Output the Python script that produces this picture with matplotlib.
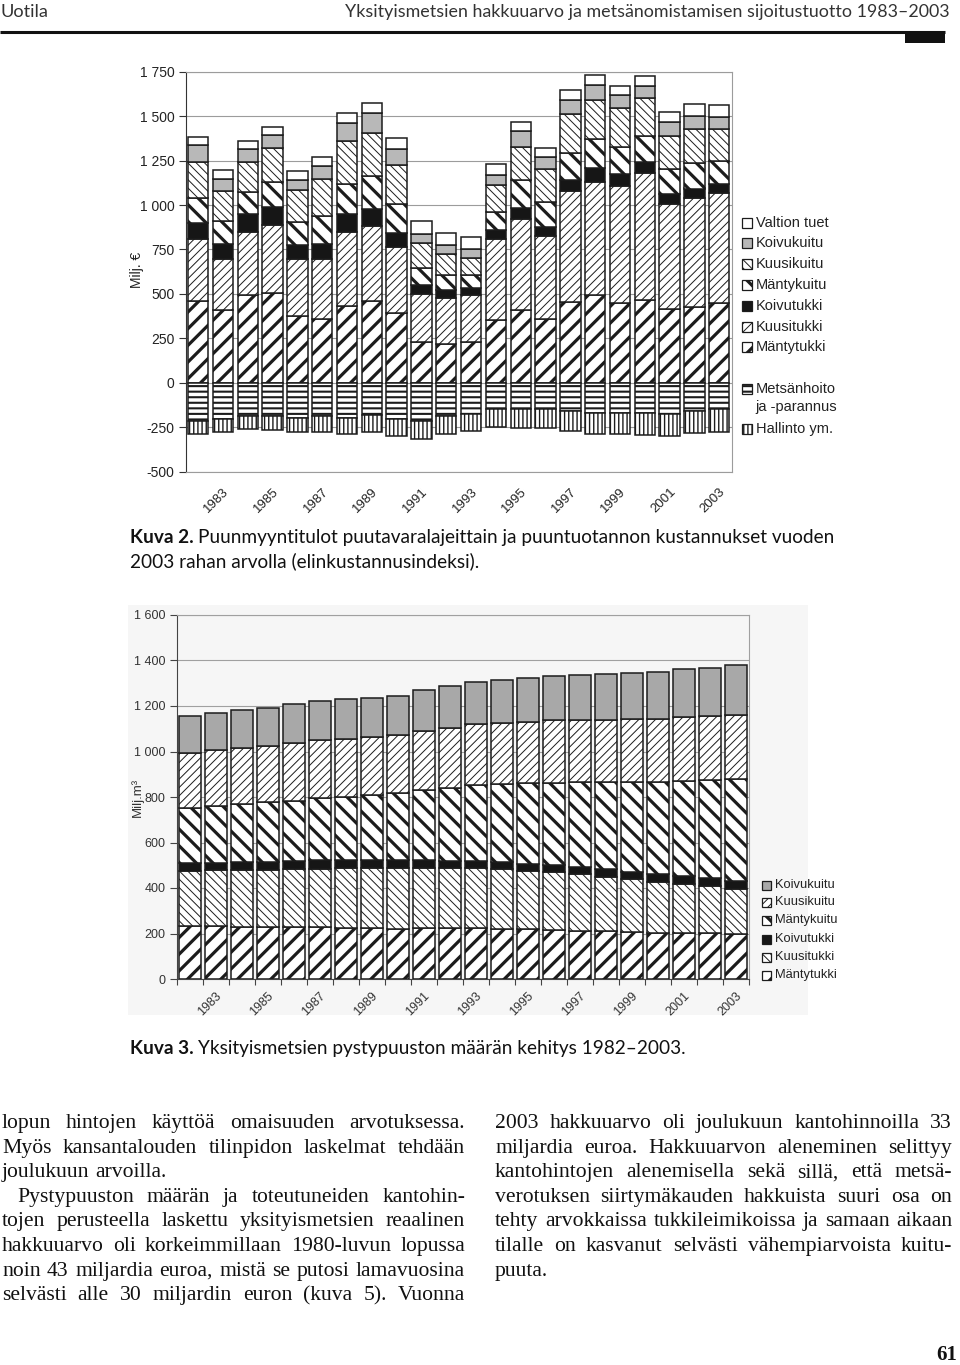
import numpy as np
import matplotlib
matplotlib.use("Agg")
import matplotlib.pyplot as plt
from matplotlib.patches import Rectangle

W, H, DPI = 960, 1365, 100

# ---------------- data ----------------
years = list(range(1982, 2004))
tick_years = list(range(1983, 2004, 2))

# Kuva 2: Puunmyyntitulot (Milj. €), bottom -> top
c1_mantytukki = [458, 411, 492, 507, 374, 361, 432, 458, 393, 229, 216, 229, 351, 411, 361, 454, 492, 451, 468, 417, 426, 449]
c1_kuusitukki = [350, 288, 357, 383, 325, 338, 417, 423, 371, 269, 263, 263, 457, 513, 465, 626, 639, 657, 713, 588, 611, 616]
c1_koivutukki = [92, 80, 98, 100, 75, 84, 98, 94, 79, 50, 45, 43, 50, 62, 51, 60, 75, 66, 62, 56, 56, 56]
c1_mantykuitu = [142, 130, 127, 137, 131, 156, 170, 188, 165, 98, 81, 70, 104, 154, 141, 154, 163, 154, 147, 139, 141, 128]
c1_kuusikuitu = [198, 171, 169, 191, 182, 210, 245, 240, 218, 143, 118, 99, 150, 188, 182, 218, 222, 216, 210, 190, 191, 176]
c1_koivukuitu = [97, 69, 70, 74, 53, 72, 97, 113, 89, 50, 51, 47, 56, 90, 71, 79, 84, 75, 70, 75, 76, 72]
c1_valtion_tuet = [43, 47, 49, 45, 51, 47, 60, 56, 60, 70, 71, 70, 60, 51, 51, 56, 57, 51, 56, 56, 65, 65]
c1_metsanhoito = [-214, -201, -187, -187, -196, -187, -196, -183, -201, -214, -187, -178, -150, -150, -150, -159, -169, -169, -169, -178, -159, -150]
c1_hallinto = [-72, -73, -72, -81, -81, -87, -90, -91, -98, -103, -99, -94, -100, -105, -105, -113, -117, -117, -123, -121, -124, -127]
c1_pos_labels = ["Mäntytukki", "Kuusitukki", "Koivutukki", "Mäntykuitu", "Kuusikuitu", "Koivukuitu", "Valtion tuet"]
c1_neg_labels = ["Metsänhoito\nja -parannus", "Hallinto ym."]
c1_yticks = [-500, -250, 0, 250, 500, 750, 1000, 1250, 1500, 1750]

# Kuva 3: Pystypuusto (Milj. m3), bottom -> top
c2_mantytukki = [233, 233, 230, 227, 227, 227, 226, 223, 221, 223, 223, 223, 220, 218, 215, 212, 211, 208, 204, 204, 201, 196]
c2_kuusitukki = [243, 246, 249, 252, 255, 257, 260, 263, 265, 266, 266, 266, 262, 258, 254, 248, 239, 232, 224, 214, 208, 201]
c2_koivutukki = [32, 32, 34, 37, 37, 39, 37, 37, 37, 34, 30, 30, 31, 29, 32, 31, 32, 32, 33, 35, 33, 35]
c2_mantykuitu = [245, 249, 256, 260, 265, 271, 278, 286, 293, 308, 322, 334, 344, 355, 362, 373, 384, 394, 406, 417, 433, 446]
c2_kuusikuitu = [242, 246, 248, 248, 252, 256, 255, 255, 256, 259, 264, 268, 270, 271, 275, 274, 272, 275, 276, 280, 281, 282]
c2_koivukuitu = [161, 162, 165, 169, 171, 170, 173, 172, 173, 180, 183, 186, 187, 190, 194, 198, 201, 205, 208, 211, 212, 220]
c2_labels = ["Mäntytukki", "Kuusitukki", "Koivutukki", "Mäntykuitu", "Kuusikuitu", "Koivukuitu"]
c2_yticks = [0, 200, 400, 600, 800, 1000, 1200, 1400, 1600]

# ---------------- styles ----------------
EDGE = "#1c1c1c"
ST = {
    "thick_fwd": dict(fc="white", hatch="//", hlw=2.3),
    "thin_fwd": dict(fc="white", hatch="////", hlw=0.7),
    "thick_back": dict(fc="white", hatch="\\\\", hlw=2.3),
    "thin_back": dict(fc="white", hatch="\\\\\\\\", hlw=0.7),
    "black": dict(fc="#161616", hatch=None, hlw=1.0),
    "gray1": dict(fc="#b8b8b8", hatch=None, hlw=1.0),
    "gray2": dict(fc="#a8a8a8", hatch=None, hlw=1.0),
    "white": dict(fc="white", hatch=None, hlw=1.0),
    "horiz": dict(fc="white", hatch="---", hlw=1.5),
    "vert": dict(fc="white", hatch="||||", hlw=1.0),
}
SANS = "Liberation Sans"
SERIF = "Liberation Serif"
CAP = "Lato"


def style_patch(p, st):
    try:
        p.set_hatch_linewidth(st["hlw"])
    except AttributeError:
        pass


fig = plt.figure(figsize=(W / DPI, H / DPI), dpi=DPI)
fig.patch.set_facecolor("white")
page = fig.add_axes([0, 0, 1, 1], zorder=0)
page.set_xlim(0, W)
page.set_ylim(H, 0)
page.axis("off")
R = fig.canvas.get_renderer()


def tw(t):
    return t.get_window_extent(renderer=R).width


def px_axes(x0, y0, x1, y1):
    return fig.add_axes([x0 / W, 1 - y1 / H, (x1 - x0) / W, (y1 - y0) / H], zorder=2)


def stack(ax, x, series, styles, width, lw=1.1):
    bottom = np.zeros(len(x))
    for vals, key in zip(series, styles):
        st = ST[key]
        vals = np.asarray(vals, float)
        with plt.rc_context({"hatch.linewidth": st["hlw"]}):
            bars = ax.bar(x, vals, width, bottom=bottom, color=st["fc"], edgecolor=EDGE,
                          linewidth=lw, hatch=st["hatch"], zorder=3)
        for b in bars:
            style_patch(b, st)
        bottom += vals


def legend_item(x, y, size, key, label, fs):
    st = ST[key]
    with plt.rc_context({"hatch.linewidth": st["hlw"]}):
        r = Rectangle((x, y - size / 2), size, size, facecolor=st["fc"], edgecolor=EDGE,
                      lw=0.9, hatch=st["hatch"], zorder=5)
    style_patch(r, st)
    page.add_patch(r)
    page.text(x + size + 4, y, label, fontsize=fs, family=SANS, va="center", ha="left",
              color="#222", linespacing=1.35, zorder=5)


def fmt(v):
    s = f"{abs(v):,}".replace(",", " ")
    return ("-" if v < 0 else "") + s


x = np.arange(len(years))

# ---------------- Chart 1 ----------------
ax1 = px_axes(185.7, 71.7, 731.7, 471.7)
ax1.set_xlim(-0.5, len(years) - 0.5)
ax1.set_ylim(-500, 1750)
stack(ax1, x, [c1_mantytukki, c1_kuusitukki, c1_koivutukki, c1_mantykuitu, c1_kuusikuitu,
               c1_koivukuitu, c1_valtion_tuet],
      ["thick_fwd", "thin_fwd", "black", "thick_back", "thin_back", "gray1", "white"], 0.82)
stack(ax1, x, [c1_metsanhoito, c1_hallinto], ["horiz", "vert"], 0.82)
ax1.set_yticks(c1_yticks)
ax1.grid(axis="y", color="#9c9c9c", lw=0.8, zorder=0)
ax1.set_axisbelow(True)
for s in ["top", "right", "bottom"]:
    ax1.spines[s].set_color("#9c9c9c")
    ax1.spines[s].set_linewidth(0.8)
ax1.spines["left"].set_color("#333")
ax1.tick_params(axis="y", length=5, width=0.8, color="#333", pad=3, labelsize=10, labelcolor="#222")
ax1.set_yticklabels([fmt(v) for v in c1_yticks], family=SANS)
tick_idx = [years.index(y) for y in tick_years]
ax1.set_xticks(tick_idx)
ax1.set_xticklabels([str(y) for y in tick_years], rotation=45, ha="right", va="top",
                    rotation_mode="anchor", family=SANS, fontsize=9.5, color="#222")
ax1.tick_params(axis="x", length=0, pad=10)
page.text(137, 270, "Milj. €", rotation=90, fontsize=10, family=SANS, va="center", ha="center", color="#222")

leg1_y = [223, 243, 264, 285, 306, 327, 347]
leg1_keys = ["white", "gray1", "thin_back", "thick_back", "black", "thin_fwd", "thick_fwd"]
for yy, key, lab in zip(leg1_y, leg1_keys, c1_pos_labels[::-1]):
    legend_item(741.5, yy, 10, key, lab, 10.5)
legend_item(741.5, 389, 10, "horiz", c1_neg_labels[0].split("\n")[0], 10.5)
page.text(755.5, 407, c1_neg_labels[0].split("\n")[1], fontsize=10.5, family=SANS, va="center",
          ha="left", color="#222")
legend_item(741.5, 429, 10, "vert", c1_neg_labels[1], 10.5)

# ---------------- Chart 2 ----------------
page.add_patch(Rectangle((128, 605), 680, 410, fc="#f6f6f6", ec="none", zorder=0))
ax2 = px_axes(176.7, 615, 749, 979)
ax2.set_facecolor("none")
ax2.set_xlim(-0.5, len(years) - 0.5)
ax2.set_ylim(0, 1600)
stack(ax2, x, [c2_mantytukki, c2_kuusitukki, c2_koivutukki, c2_mantykuitu, c2_kuusikuitu, c2_koivukuitu],
      ["thick_fwd", "thin_back", "black", "thick_back", "thin_fwd", "gray2"], 0.83)
ax2.set_yticks(c2_yticks)
ax2.set_yticklabels([fmt(v) for v in c2_yticks], family=SANS)
ax2.grid(axis="y", color="#a0a0a0", lw=0.8, zorder=0)
ax2.set_axisbelow(True)
for s in ["top", "right"]:
    ax2.spines[s].set_color("#a0a0a0")
    ax2.spines[s].set_linewidth(0.8)
for s in ["left", "bottom"]:
    ax2.spines[s].set_color("#444")
ax2.tick_params(axis="y", length=5, width=0.8, color="#444", pad=3, labelsize=9, labelcolor="#333")
ax2.set_xticks(tick_idx)
ax2.set_xticklabels([str(y) for y in tick_years], rotation=45, ha="right", va="top",
                    rotation_mode="anchor", family=SANS, fontsize=9, color="#333")
ax2.set_xticks(np.arange(-0.5, len(years), 1.0), minor=True)
ax2.tick_params(axis="x", which="major", length=0, pad=8)
ax2.tick_params(axis="x", which="minor", length=4, width=0.8, color="#444")
page.text(137, 797, "Milj.m³", rotation=90, fontsize=9.5, family=SANS, va="center", ha="center", color="#333")

leg2_y = [885, 902, 920, 939, 957, 975]
leg2_keys = ["gray2", "thin_fwd", "thick_back", "black", "thin_back", "thick_fwd"]
for yy, key, lab in zip(leg2_y, leg2_keys, c2_labels[::-1]):
    legend_item(762, yy, 9, key, lab, 9.3)

# ---------------- page text ----------------
t = page.text(0, 17, "Uotila", fontsize=13, family=CAP, va="baseline", ha="left", color="#333")
t.set_fontsize(13 * 48 / tw(t))
t = page.text(950, 17, "Yksityismetsien hakkuuarvo ja metsänomistamisen sijoitustuotto 1983–2003",
              fontsize=13, family=CAP, va="baseline", ha="right", color="#333")
t.set_fontsize(13 * 600 / tw(t))
page.plot([0, 945], [32, 32], color="#111", lw=2.2, solid_capstyle="butt")
page.add_patch(Rectangle((905, 32), 40, 11, fc="#111", ec="none"))


def rich(x0, ybase, parts, fs):
    cur = x0
    out = []
    for txt, wt in parts:
        tt = page.text(cur, ybase, txt, fontsize=fs, fontweight=wt, family=CAP, va="baseline",
                       ha="left", color="#111")
        out.append(tt)
        cur += tw(tt)
    return out, cur - x0


cap_fs = 13
parts = [("Kuva 2. ", "bold"), ("Puunmyyntitulot puutavaralajeittain ja puuntuotannon kustannukset vuoden", "normal")]
tmp, wid = rich(130, 543, parts, cap_fs)
for tt in tmp:
    tt.remove()
cap_fs = cap_fs * 703 / wid
rich(130, 543, parts, cap_fs)
rich(130, 567, [("2003 rahan arvolla (elinkustannusindeksi).", "normal")], cap_fs)
rich(130, 1054, [("Kuva 3. ", "bold"), ("Yksityismetsien pystypuuston määrän kehitys 1982–2003.", "normal")], cap_fs)

BODY_FS = 15.6
MIN_GAP = 3.0


def body_line(text, x0, x1, ybase, justify=True):
    words = text.split(" ")
    fs = BODY_FS
    ts = [page.text(0, ybase, w, fontsize=fs, family=SERIF, va="baseline", ha="left", color="#111")
          for w in words]
    ws = [tw(tt) for tt in ts]
    if justify and len(words) > 1:
        gap = (x1 - x0 - sum(ws)) / (len(words) - 1)
        if gap < MIN_GAP:
            fs = fs * (x1 - x0 - MIN_GAP * (len(words) - 1)) / sum(ws)
            for tt in ts:
                tt.set_fontsize(fs)
            ws = [tw(tt) for tt in ts]
            gap = (x1 - x0 - sum(ws)) / (len(words) - 1)
    else:
        sp = page.text(0, 0, "a a", fontsize=fs, family=SERIF)
        sp2 = page.text(0, 0, "aa", fontsize=fs, family=SERIF)
        gap = tw(sp) - tw(sp2)
        sp.remove()
        sp2.remove()
    cur = x0
    for tt, w in zip(ts, ws):
        tt.set_x(cur)
        cur += w + gap


left_lines = [
    ("lopun hintojen käyttöä omaisuuden arvotuksessa.", True, 0),
    ("Myös kansantalouden tilinpidon laskelmat tehdään", True, 0),
    ("joulukuun arvoilla.", False, 0),
    ("Pystypuuston määrän ja toteutuneiden kantohin-", True, 15),
    ("tojen perusteella laskettu yksityismetsien reaalinen", True, 0),
    ("hakkuuarvo oli korkeimmillaan 1980-luvun lopussa", True, 0),
    ("noin 43 miljardia euroa, mistä se putosi lamavuosina", True, 0),
    ("selvästi alle 30 miljardin euron (kuva 5). Vuonna", True, 0),
]
right_lines = [
    ("2003 hakkuuarvo oli joulukuun kantohinnoilla 33", True),
    ("miljardia euroa. Hakkuuarvon aleneminen selittyy", True),
    ("kantohintojen alenemisella sekä sillä, että metsä-", True),
    ("verotuksen siirtymäkauden hakkuista suuri osa on", True),
    ("tehty arvokkaissa tukkileimikoissa ja samaan aikaan", True),
    ("tilalle on kasvanut selvästi vähempiarvoista kuitu-", True),
    ("puuta.", False),
]
for i, (txt, j, ind) in enumerate(left_lines):
    body_line(txt, 2 + ind, 465, 1128 + i * 24.6, j)
for i, (txt, j) in enumerate(right_lines):
    body_line(txt, 495, 952, 1128 + i * 24.6, j)

page.text(957, 1360, "61", fontsize=15, fontweight="bold", family=SERIF, ha="right", va="baseline", color="#111")

fig.savefig("out.png", dpi=DPI)
